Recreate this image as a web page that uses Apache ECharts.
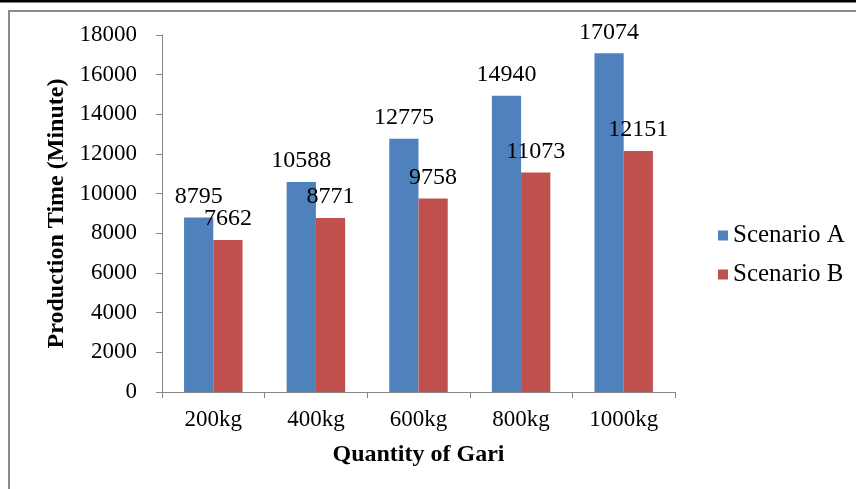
<!DOCTYPE html>
<html>
<head>
<meta charset="utf-8">
<script src="https://cdn.jsdelivr.net/npm/echarts@6/dist/echarts.min.js"></script>
<style>
  html, body { margin: 0; padding: 0; background: #fff; }
  #chart { width: 856px; height: 489px; }
</style>
</head>
<body>
<div id="chart"></div>
<script>
// Production time per batch size, two scenarios
const categories = ['200kg', '400kg', '600kg', '800kg', '1000kg'];
const scenarioA = [8795, 10588, 12775, 14940, 17074];
const scenarioB = [7662, 8771, 9758, 11073, 12151];
const seriesNames = ['Scenario A', 'Scenario B'];

const serif = 'Liberation Serif';
const axisGray = '#868686';

const chart = echarts.init(document.getElementById('chart'), null, { renderer: 'canvas' });

const labelStyle = {
  show: true,
  position: 'top',
  distance: 9,
  fontFamily: serif,
  fontSize: 24,
  color: '#000'
};

chart.setOption({
  animation: false,
  backgroundColor: '#fff',
  textStyle: { fontFamily: serif },
  graphic: [
    { type: 'rect', shape: { x: 0, y: 0, width: 856, height: 2.5 }, style: { fill: '#000' }, silent: true },
    { type: 'rect', shape: { x: 9, y: 11, width: 900, height: 520 },
      style: { fill: 'none', stroke: '#8a8a8a', lineWidth: 2 }, silent: true }
  ],
  legend: {
    orient: 'vertical',
    left: 713,
    top: 218,
    itemWidth: 10,
    itemHeight: 10,
    itemGap: 14,
    icon: 'rect',
    textStyle: { fontFamily: serif, fontSize: 25, color: '#000' },
    data: seriesNames
  },
  grid: { left: 162, top: 35, right: 181, bottom: 97, containLabel: false },
  xAxis: {
    type: 'category',
    data: categories,
    name: 'Quantity of Gari',
    nameLocation: 'middle',
    nameGap: 51,
    nameTextStyle: { fontFamily: serif, fontSize: 24, fontWeight: 'bold', color: '#000' },
    axisLine: { lineStyle: { color: axisGray, width: 1 } },
    axisTick: { show: true, alignWithLabel: false, length: 6, lineStyle: { color: axisGray } },
    axisLabel: { fontFamily: serif, fontSize: 23, color: '#000', margin: 16 }
  },
  yAxis: {
    type: 'value',
    min: 0,
    max: 18000,
    interval: 2000,
    name: 'Production Time (Minute)',
    nameLocation: 'middle',
    nameGap: 92,
    nameRotate: 90,
    nameTextStyle: { fontFamily: serif, fontSize: 24, fontWeight: 'bold', color: '#000' },
    axisLine: { show: true, lineStyle: { color: axisGray, width: 1 } },
    axisTick: { show: true, inside: false, length: 6, lineStyle: { color: axisGray } },
    axisLabel: { fontFamily: serif, fontSize: 23, color: '#000', margin: 25, formatter: v => String(v) },
    splitLine: { show: false }
  },
  series: [
    {
      name: seriesNames[0],
      type: 'bar',
      data: scenarioA,
      barGap: '0%',
      barCategoryGap: '43%',
      itemStyle: { color: '#4F81BD' },
      label: labelStyle
    },
    {
      name: seriesNames[1],
      type: 'bar',
      data: scenarioB,
      itemStyle: { color: '#C0504D' },
      label: labelStyle
    }
  ]
});
</script>
</body>
</html>
